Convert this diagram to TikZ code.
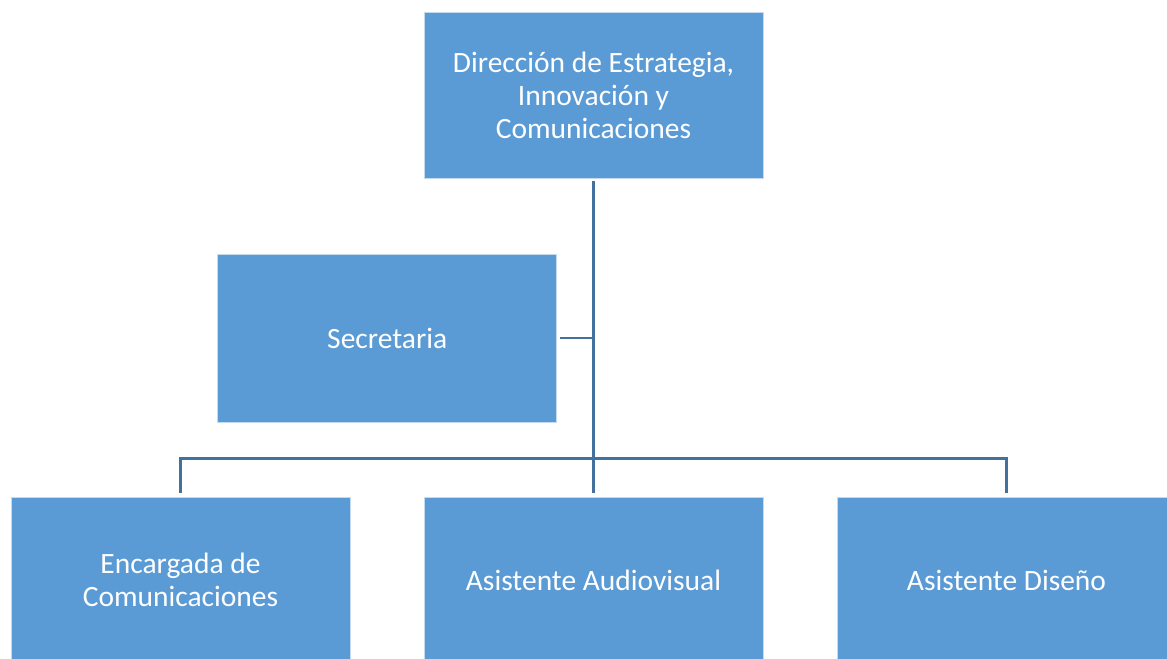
\documentclass[tikz,border=0pt]{standalone}
\usepackage{fontspec}
\setmainfont{Carlito}
\definecolor{boxblue}{HTML}{5B9BD5}
\definecolor{boxedge}{HTML}{C3DAEF}
\definecolor{linecol}{HTML}{41719C}
\begin{document}
\begin{tikzpicture}[x=1bp,y=-1bp,
  orgbox/.style={rectangle, fill=boxblue, draw=boxedge, line width=0.8bp,
    minimum width=339bp, minimum height=166bp, inner sep=0pt,
    text=white, align=center, font=\fontsize{29.6}{33}\selectfont},
  conn/.style={draw=linecol, line width=2.6bp}]
\useasboundingbox (0,0) rectangle (1167,659);
\node[orgbox] (top) at (593.5,95) {Dirección de Estrategia,\\Innovación y\\Comunicaciones};
\node[orgbox, minimum height=168bp] (sec) at (387.2,338) {Secretaria};
\node[orgbox] (enc) at (180.5,580) {Encargada de\\Comunicaciones};
\node[orgbox] (aud) at (593.5,580) {Asistente Audiovisual};
\node[orgbox] (dis) at (1006.5,580) {Asistente Diseño};
\coordinate (bus) at (593.5,458.5);
\draw[conn] ([yshift=-3bp]top.south) -- ([yshift=4bp]aud.north);
\draw[conn] ([xshift=3bp]sec.east) -- (sec.east -| top.south);
\draw[conn] ([yshift=4bp]enc.north) |- (bus) -| ([yshift=4bp]dis.north);
\end{tikzpicture}
\end{document}
